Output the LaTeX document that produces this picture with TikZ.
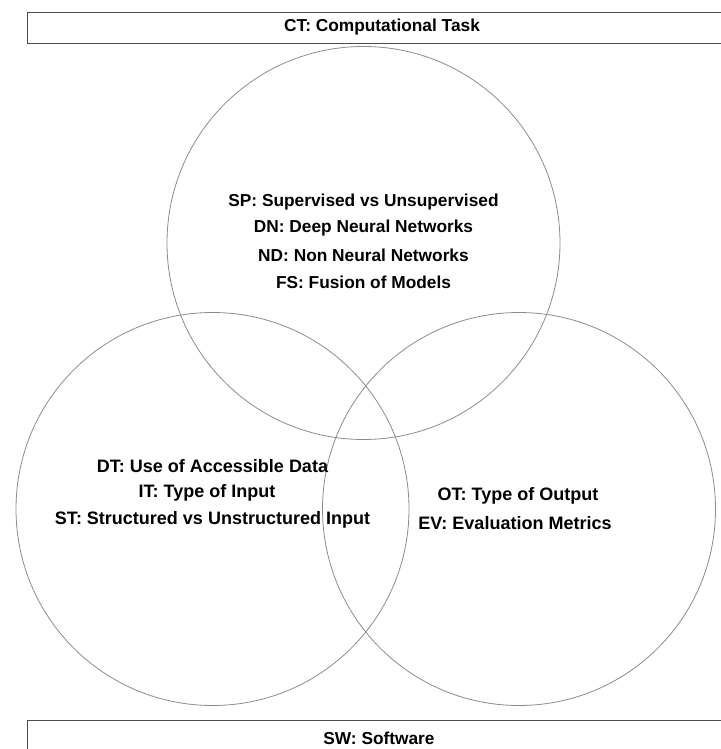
\documentclass[tikz,border=0pt]{standalone}
\usepackage{fontspec}
\setmainfont{Liberation Sans}
\begin{document}
\begin{tikzpicture}[x=1pt,y=-1pt,
  venn/.style={draw=black!45,line width=0.8pt},
  band/.style={draw=black!70,line width=0.9pt},
  lbl/.style={font=\fontsize{17.3}{20}\selectfont\bfseries,text=black,inner sep=0pt,anchor=center},
  lblb/.style={lbl,font=\fontsize{18}{21}\selectfont\bfseries}]
\useasboundingbox (0,0) rectangle (720,749);
\fill[white] (0,0) rectangle (720,749);
% bands
\draw[band] (27,12) rectangle (760,43);
\node[lbl] (ct) at (382,27.5) {CT: Computational Task};
\draw[band] (27,720) rectangle (760,780);
\node[lbl] (sw) at (379,738) {SW: Software};
% circles
\draw[venn] (363.5,243) circle (196.5);
\draw[venn] (212.5,509) circle (196.5);
\draw[venn] (519,509) circle (196.5);
% top circle text
\node[lbl] (sp) at (363.5,202) {SP: Supervised vs Unsupervised};
\node[lbl] (dn) at (363.5,228.5) {DN: Deep Neural Networks};
\node[lbl] (nd) at (363.5,255) {ND: Non Neural Networks};
\node[lbl] (fs) at (363.5,282) {FS: Fusion of Models};
% left circle text
\node[lblb] (dt) at (212.5,466) {DT: Use of Accessible Data};
\node[lblb] (it) at (207,493) {IT: Type of Input};
\node[lblb] (st) at (212.5,520) {ST: Structured vs Unstructured Input};
% right circle text
\node[lblb] (ot) at (518,496) {OT: Type of Output};
\node[lblb] (ev) at (515,523) {EV: Evaluation Metrics};
\end{tikzpicture}
\end{document}
